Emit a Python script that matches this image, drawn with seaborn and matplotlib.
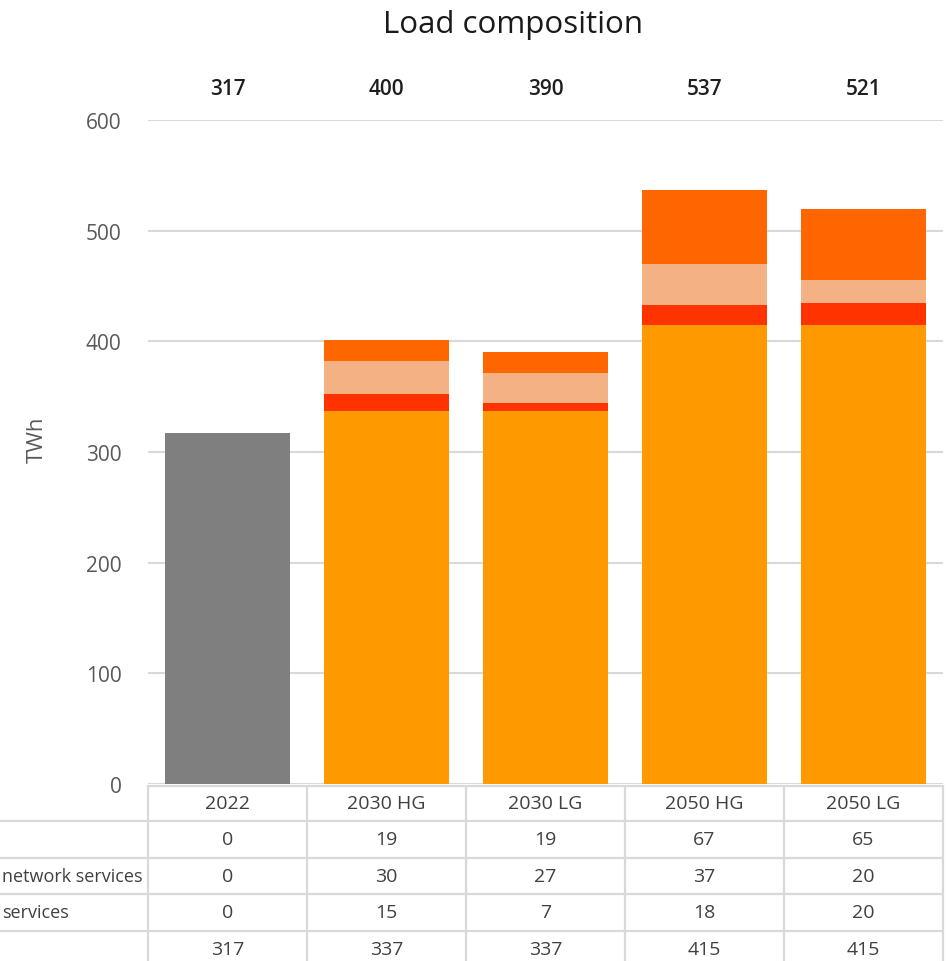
import numpy as np
import pandas as pd
import matplotlib
matplotlib.use("Agg")
import matplotlib.pyplot as plt
import matplotlib.transforms as mtransforms
import seaborn as sns

# ---- data ----
categories = ["2022", "2030 HG", "2030 LG", "2050 HG", "2050 LG"]
base_load = [317, 337, 337, 415, 415]
services = [0, 15, 7, 18, 20]
network_services = [0, 30, 27, 37, 20]
top_layer = [0, 19, 19, 67, 65]
totals = [317, 400, 390, 537, 521]
row_labels = ["", "network services", "services", ""]
yticks = [0, 100, 200, 300, 400, 500, 600]

sns.set_theme(style="white")
plt.rcParams["font.family"] = ["Open Sans", "DejaVu Sans"]

W, H = 948, 962
fig = plt.figure(figsize=(W / 100, H / 100), dpi=100)

ax_left, ax_right = 148, 943
ax_top, ax_bot = 121, 785
ax = fig.add_axes([ax_left / W, 1 - ax_bot / H, (ax_right - ax_left) / W, (ax_bot - ax_top) / H])

bw = 0.79
grey = "#7F7F7F"
c_base = "#FF9900"
c_serv = "#FF3300"
c_net = "#F4B183"
c_top = "#FF6600"

base_arr = np.array(base_load)
serv_arr = np.array(services)
net_arr = np.array(network_services)

sns.barplot(x=categories, y=base_load, hue=categories, order=categories,
            palette=[grey, c_base, c_base, c_base, c_base], legend=False,
            saturation=1, width=bw, linewidth=0, ax=ax)
sns.barplot(x=categories, y=services, order=categories, color=c_serv,
            saturation=1, width=bw, linewidth=0, bottom=base_arr, ax=ax)
sns.barplot(x=categories, y=network_services, order=categories, color=c_net,
            saturation=1, width=bw, linewidth=0, bottom=base_arr + serv_arr, ax=ax)
sns.barplot(x=categories, y=top_layer, order=categories, color=c_top,
            saturation=1, width=bw, linewidth=0, bottom=base_arr + serv_arr + net_arr, ax=ax)

ax.set_xlim(-0.5, 4.5)
ax.set_ylim(0, 600)
ax.set_yticks(yticks)
ax.set_yticklabels([str(v) for v in yticks])
ax.set_xticks([])
ax.set_xlabel("")
ax.set_ylabel("TWh", fontsize=16, color="#595959")
ax.yaxis.set_label_coords((37 - ax_left) / (ax_right - ax_left), (ax_bot - 440) / (ax_bot - ax_top))
ax.yaxis.label.set_va("center")
ax.yaxis.grid(True, color="#D9D9D9", linewidth=1.5)
ax.set_axisbelow(True)
ax.tick_params(axis="y", length=0, pad=19, labelsize=15, labelcolor="#595959")
for s in ax.spines.values():
    s.set_visible(False)

# totals above
trans = mtransforms.blended_transform_factory(ax.transData, fig.transFigure)
for i, t in enumerate(totals):
    ax.text(i, 1 - 90 / H, str(t), transform=trans, ha="center", va="center",
            fontsize=15, fontweight="semibold", color="#1F1F1F")

fig.text(513 / W, 1 - 25 / H, "Load composition", ha="center", va="center",
         fontsize=22.5, color="#1A1A1A")

# ---- data table ----
tab_top = 787
tab = fig.add_axes([ax_left / W, 0, (ax_right - ax_left) / W, (H - tab_top) / H])
tab.set_xlim(-0.5, 4.5)
tab.set_ylim(H - tab_top, 0)
tab.axis("off")
lc = "#D9D9D9"
col_px = (ax_right - ax_left) / 5
far_left = -0.5 - ax_left / col_px
row_edges = [0, 35, 72, 108, 145, 182]
tab.plot([-0.5, 4.5], [0, 0], color=lc, lw=1.6, clip_on=False)
for y in row_edges[1:5]:
    tab.plot([far_left, 4.5], [y, y], color=lc, lw=1.6, clip_on=False)
for i in range(6):
    tab.plot([i - 0.5, i - 0.5], [0, H - tab_top], color=lc, lw=1.6, clip_on=False)

centers = [(row_edges[k] + row_edges[k + 1]) / 2 for k in range(5)]
for i, c in enumerate(categories):
    tab.text(i, centers[0], c, ha="center", va="center", fontsize=14, color="#404040")
rows = [top_layer, network_services, services, base_load]
for r, vals in enumerate(rows):
    for i, v in enumerate(vals):
        tab.text(i, centers[r + 1], str(v), ha="center", va="center", fontsize=14, color="#404040")
    if row_labels[r]:
        xl = far_left + 2 / col_px
        tab.text(xl, centers[r + 1], row_labels[r], ha="left", va="center",
                 fontsize=13, color="#404040", clip_on=False)

fig.savefig("out.png", dpi=100)
